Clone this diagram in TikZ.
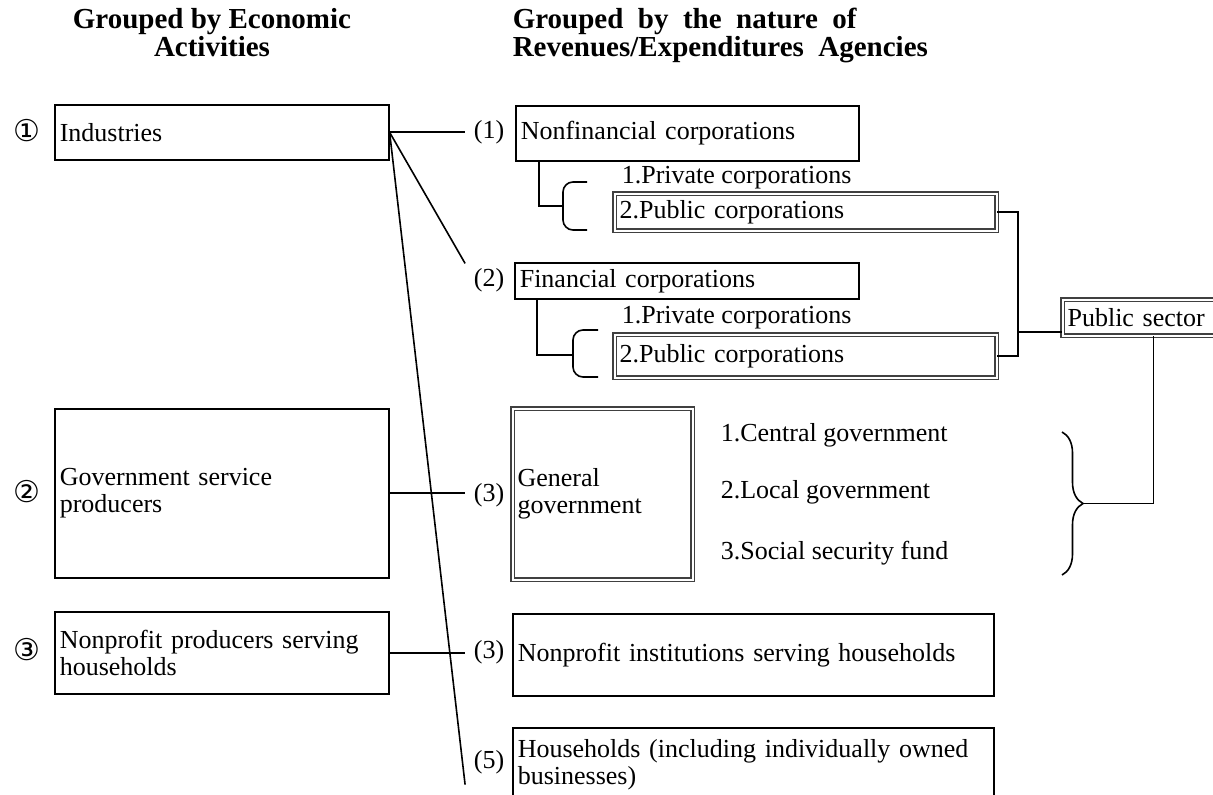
\documentclass[tikz,border=0pt]{standalone}
\usepackage{fontspec}
\setmainfont{Liberation Serif}
\newfontfamily\circfont{DejaVu Sans}
\usetikzlibrary{decorations.pathreplacing}

\begin{document}
\begin{tikzpicture}[x=0.5pt, y=-0.5pt, line width=0.8pt,
  every node/.style={font=\fontsize{13}{13.5}\selectfont},
  box/.style={draw, anchor=north west, align=left, inner xsep=2.5pt, inner ysep=0pt},
  dbox/.style={box, draw=black!75, double=white, double distance=1pt, line width=0.55pt},
  num/.style={anchor=east, inner xsep=4pt, inner ysep=2pt},
  circ/.style={font=\circfont\fontsize{15}{15}\selectfont},
  item/.style={anchor=west, inner sep=1.5pt},
  head/.style={font=\fontsize{14.5}{12}\selectfont\bfseries, inner sep=0pt}]
      \path[use as bounding box, clip] (0,0) rectangle (1213,795);
      % headings
      \node[head, align=center, anchor=base] (tl) at (212,57) {Grouped by Economic\\Activities};
      \node[head, align=left, anchor=base west] (tr) at (512,57) {Grouped\ \ by\ \ the\ \ nature\ \ of\\Revenues/Expenditures\ \ Agencies};
      % left column
      \node[circ] (c1) at (27,131) {①};
      \node[circ] (c2) at (27,492) {②};
      \node[circ] (c3) at (27,650) {③};
      \node[box, text width=162pt, minimum height=27.5pt] (ind) at (54,104) {Industries};
      \node[box, text width=162pt, minimum height=84.5pt] (gsp) at (54,408) {Government service\\producers};
      \node[box, text width=162pt, minimum height=41pt] (npp) at (54,611) {Nonprofit producers serving\\households};
      % right column
      \node[num] (p1) at (513,132) {(1)};
      \node[num] (p2) at (513,280) {(2)};
      \node[num] (p3a) at (513,495) {(3)};
      \node[num] (p3b) at (513,652) {(3)};
      \node[num] (p5) at (513,762) {(5)};
      \node[box, text width=166.5pt, minimum height=27.5pt] (nfc) at (515,105) {Nonfinancial corporations};
      \node[item] (privA) at (618,178) {1.Private corporations};
      \node[dbox, text width=186pt, minimum height=18.5pt] (pubA) at (614,193) {2.Public corporations};
      \node[box, text width=167pt, minimum height=18pt] (fc) at (514,262) {Financial corporations};
      \node[item] (privB) at (618,318) {1.Private corporations};
      \node[dbox, text width=186pt, minimum height=21.5pt] (pubB) at (614,334) {2.Public corporations};
      \node[dbox, text width=86pt, minimum height=18pt] (pubsec) at (1062,299) {Public sector};
      \node[dbox, text width=85pt, minimum height=85.5pt] (gg) at (512,408) {General\\government};
      \node[item] (cg) at (717,435) {1.Central government};
      \node[item] (lg) at (717,492) {2.Local government};
      \node[item] (ssf) at (717,553) {3.Social security fund};
      \node[box, text width=235.5pt, minimum height=41pt] (npi) at (512,613) {Nonprofit institutions serving households};
      \node[box, text width=235.5pt, minimum height=36.5pt] (hh) at (512,727) {Households (including individually owned\\businesses)};
      % connectors
      \draw (ind.east) -- (ind.east -| p1.west);
      \draw (ind.east) -- (p2.north west);
      \draw (ind.east) -- ([yshift=-3pt]p5.south west);
      \draw (gsp.east) -- (gsp.east -| p3a.west);
      \draw (npp.east) -- (npp.east -| p3b.west);
      \coordinate (bkA) at (563,206);
      \coordinate (bkB) at (573,355);
      \draw ([xshift=12pt]nfc.south west) |- (bkA);
      \draw ([xshift=11.5pt]fc.south west) |- (bkB);
      \draw[rounded corners=5pt] (587,182) -- (563,182) -- (563,230) -- (587,230);
      \draw[rounded corners=5pt] (598,330) -- (573,330) -- (573,377) -- (598,377);
      \coordinate (jn) at (1018,332);
      \draw (pubA.east) -| (jn) |- (pubB.east);
      \draw (jn) -- (jn -| pubsec.west);
      \coordinate (brtip) at (1083,503.5);
      \draw (pubsec.south) |- (brtip);
      \draw[decorate, decoration={brace, amplitude=10.5pt}] (1062,432) -- (1062,575);
\end{tikzpicture}
\end{document}
